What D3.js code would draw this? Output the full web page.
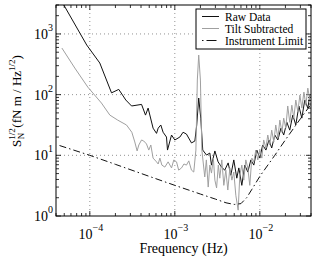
<!DOCTYPE html>
<html><head><meta charset="utf-8">
<script src="https://cdn.jsdelivr.net/npm/d3@7"></script>
<style>body{margin:0;background:#fff}svg{display:block}
svg text, svg tspan{font-family:"Liberation Serif","DejaVu Serif",serif !important;}</style>
</head><body><svg id="c" width="316" height="259"></svg>
<script>
// Raw data (frequency Hz, value fN m / Hz^1/2)
const rawFreq = [4.44e-5,9.2e-5,1.31e-4,1.8e-4,2.19e-4,2.65e-4,3.1e-4,4.06e-4,4.52e-4,4.85e-4,5.55e-4,6.09e-4,6.37e-4,6.84e-4,7.28e-4,7.98e-4,8.2e-4,9.15e-4,1.0e-3,1.146e-3,1.25e-3,1.37e-3,1.57e-3,1.72e-3,1.81e-3,1.91e-3,2.02e-3,2.13e-3,2.36e-3,2.58e-3,2.70e-3,2.96e-3,3.23e-3,3.54e-3,3.87e-3,4.24e-3,4.56e-3,4.94e-3,5.36e-3,5.66e-3,6.14e-3,6.66e-3,7.22e-3,7.84e-3,8.5e-3,9.22e-3,1.0e-2,1.08e-2,1.18e-2,1.28e-2,1.38e-2,1.5e-2,1.63e-2,1.77e-2,1.91e-2,2.08e-2,2.25e-2,2.44e-2,2.65e-2,2.88e-2,3.12e-2,3.38e-2,3.67e-2,3.88e-2];
const rawVal  = [3900,656,332,107,122,81.5,65,69,46,60,28,23,28,31.6,24,20,12.2,21.6,17.9,20,24,22.4,16,17.2,31.6,88,41,12.2,10.1,10.9,6.9,11.8,7.8,6.4,5.7,7.5,4.7,8.4,4.2,6.2,3.2,6.9,5.3,8.4,6.9,12.2,9.0,14.8,12.2,17.9,13.2,21.6,17.9,28,21.6,35,26,46,31.6,65,41,81.5,60,98];
// Tilt subtracted
const tiltFreq = [4.69e-5,6.66e-5,9.47e-5,1.37e-4,1.72e-4,2.13e-4,2.7e-4,3.12e-4,3.38e-4,3.6e-4,3.77e-4,4.06e-4,4.31e-4,4.64e-4,4.94e-4,5.22e-4,5.55e-4,6.09e-4,6.37e-4,6.67e-4,7.04e-4,7.63e-4,8.34e-4,9.15e-4,9.73e-4,1.047e-3,1.11e-3,1.2e-3,1.28e-3,1.37e-3,1.46e-3,1.57e-3,1.67e-3,1.77e-3,1.84e-3,1.91e-3,2.0e-3,2.08e-3,2.25e-3,2.35e-3,2.47e-3,2.58e-3,2.70e-3,2.84e-3,2.96e-3,3.1e-3,3.25e-3,3.38e-3,3.57e-3,3.77e-3,3.98e-3,4.2e-3,4.44e-3,4.69e-3,4.94e-3,5.22e-3,5.56e-3,5.82e-3,6.14e-3,6.48e-3,6.84e-3,7.22e-3,7.62e-3,8.05e-3,8.5e-3,8.97e-3,9.47e-3,1.0e-2,1.056e-2,1.11e-2,1.18e-2,1.24e-2,1.31e-2,1.38e-2,1.46e-2,1.54e-2,1.63e-2,1.72e-2,1.82e-2,1.91e-2,2.02e-2,2.13e-2,2.25e-2,2.38e-2,2.51e-2,2.65e-2,2.8e-2,2.96e-2,3.12e-2,3.3e-2,3.48e-2,3.67e-2,3.88e-2];
const tiltVal  = [586,274,133,72.7,46,38,31.6,24,16.6,11.8,14.8,17.9,17.2,15.4,12.2,14.8,9.0,7.8,7.2,9.0,6.9,6.4,7.8,6.2,8.4,7.8,5.7,6.2,7.2,6.9,8.1,5.7,5.3,12.2,174,449,174,12.2,4.4,8.4,3.0,6.9,5.1,9.0,3.9,2.9,6.9,4.2,8.4,3.2,5.7,2.68,6.2,3.9,5.3,2.2,1.25,4.7,6.9,3.9,8.4,6.2,3.2,9.0,7.8,12.2,8.4,12.2,9.0,17.9,13.2,21.6,14.8,26,16.6,31.6,19.3,38,24,41,28,65,35,67,41,81.5,52,98,60,110,67,128,81.5];
// Instrument limit
const limFreq = [4.4e-5,1e-4,2e-4,5e-4,1e-3,2e-3,3e-3,4e-3,5e-3,6e-3,7e-3,8e-3,1e-2,1.5e-2,2e-2,3e-2,3.9e-2];
const limVal  = [14.5,10,7.1,4.5,3.2,2.3,1.9,1.65,1.55,1.6,2.0,2.7,4.5,10,18,40,66];
const seriesNames = ["Raw Data","Tilt Subtracted","Instrument Limit"];
const xMajor = [1e-4,1e-3,1e-2];
const xExp = ["\u22124","\u22123","\u22122"];
const yMajor = [1,10,100,1000];
const yExp = ["0","1","2","3"];

const FF = '"Liberation Serif","DejaVu Serif",serif';
const svg = d3.select("#c");
const L=56,R=311,T=5,B=216;
const x = d3.scaleLog().domain([4e-5,4e-2]).range([L,R]);
const y = d3.scaleLog().domain([1,3000]).range([B,T]);

svg.append("clipPath").attr("id","clip").append("rect").attr("x",L).attr("y",T).attr("width",R-L).attr("height",B-T);

// grid
const g = svg.append("g");
xMajor.forEach(v=>g.append("line").attr("x1",x(v)).attr("x2",x(v)).attr("y1",T).attr("y2",B)
  .attr("stroke","#777").attr("stroke-width",0.8).attr("stroke-dasharray","1,3"));
yMajor.slice(1).forEach(v=>g.append("line").attr("x1",L).attr("x2",R).attr("y1",y(v)).attr("y2",y(v))
  .attr("stroke","#777").attr("stroke-width",0.8).attr("stroke-dasharray","1,3"));

// ticks inside on all sides
const xt = x.ticks().filter(v=>v>=4e-5&&v<=4e-2);
const yt = y.ticks().filter(v=>v>=1&&v<=3000);
const tk = svg.append("g").attr("stroke","#000").attr("stroke-width",0.8);
xt.forEach(v=>{const maj=xMajor.some(m=>Math.abs(m-v)/m<1e-6);const l=maj?5:3;
  tk.append("line").attr("x1",x(v)).attr("x2",x(v)).attr("y1",B).attr("y2",B-l);
  tk.append("line").attr("x1",x(v)).attr("x2",x(v)).attr("y1",T).attr("y2",T+l);});
yt.forEach(v=>{const maj=yMajor.some(m=>Math.abs(m-v)/m<1e-6);const l=maj?5:3;
  tk.append("line").attr("y1",y(v)).attr("y2",y(v)).attr("x1",L).attr("x2",L+l);
  tk.append("line").attr("y1",y(v)).attr("y2",y(v)).attr("x1",R).attr("x2",R-l);});

// data lines
const line = d3.line().x(d=>x(d[0])).y(d=>y(d[1]));
const pl = svg.append("g").attr("clip-path","url(#clip)");
pl.append("path").datum(d3.zip(rawFreq,rawVal)).attr("d",line).attr("fill","none").attr("stroke","#111").attr("stroke-width",1);
pl.append("path").datum(d3.zip(tiltFreq,tiltVal)).attr("d",line).attr("fill","none").attr("stroke","#a0a0a0").attr("stroke-width",1);
pl.append("path").datum(d3.zip(limFreq,limVal)).attr("d",line).attr("fill","none").attr("stroke","#111").attr("stroke-width",1).attr("stroke-dasharray","7,3,1.5,3");

// frame
svg.append("rect").attr("x",L).attr("y",T).attr("width",R-L).attr("height",B-T).attr("fill","none").attr("stroke","#000").attr("stroke-width",1);

function txt(sel){return sel.append("text").style("font-family",FF).attr("fill","#000");}
// tick labels
xMajor.forEach((v,i)=>{const t=txt(svg).attr("x",x(v)+1).attr("y",239).attr("text-anchor","middle").attr("font-size",14);
  t.append("tspan").text("10");
  t.append("tspan").attr("dy",-8).attr("font-size",10).text(xExp[i]);});
yMajor.forEach((v,i)=>{const t=txt(svg).attr("x",53).attr("y",y(v)+5).attr("text-anchor","end").attr("font-size",14);
  t.append("tspan").text("10");
  t.append("tspan").attr("dy",-8).attr("font-size",10).text(yExp[i]);});

// axis titles
txt(svg).attr("x",183.5).attr("y",253).attr("text-anchor","middle").attr("font-size",14).text("Frequency (Hz)");
const yl = txt(svg).attr("transform","translate(21,101) rotate(-90)").attr("text-anchor","middle").attr("font-size",13);
yl.append("tspan").text("S");
yl.append("tspan").attr("font-size",9).attr("dy",-6).text("1/2");
yl.append("tspan").attr("font-size",9).attr("dx",-11).attr("dy",9).text("N");
yl.append("tspan").attr("dy",-3).attr("dx",5).text("(fN m / Hz");
yl.append("tspan").attr("font-size",9).attr("dy",-6).text("1/2");
yl.append("tspan").attr("dy",6).text(")");

// legend
const lg = svg.append("g");
lg.append("rect").attr("x",196).attr("y",9).attr("width",110).attr("height",40).attr("fill","#fff").attr("stroke","#000").attr("stroke-width",1);
const lstyles=[{c:"#111",d:null},{c:"#a0a0a0",d:null},{c:"#111",d:"1.5,3,10,3"}];
seriesNames.forEach((n,i)=>{const yy=16.5+12*i;
  const ln=lg.append("line").attr("x1",202).attr("x2",219).attr("y1",yy).attr("y2",yy).attr("stroke",lstyles[i].c).attr("stroke-width",1);
  if(lstyles[i].d) ln.attr("stroke-dasharray",lstyles[i].d);
  txt(lg).attr("x",225).attr("y",yy+4).attr("font-size",11.5).text(n);});
</script></body></html>
